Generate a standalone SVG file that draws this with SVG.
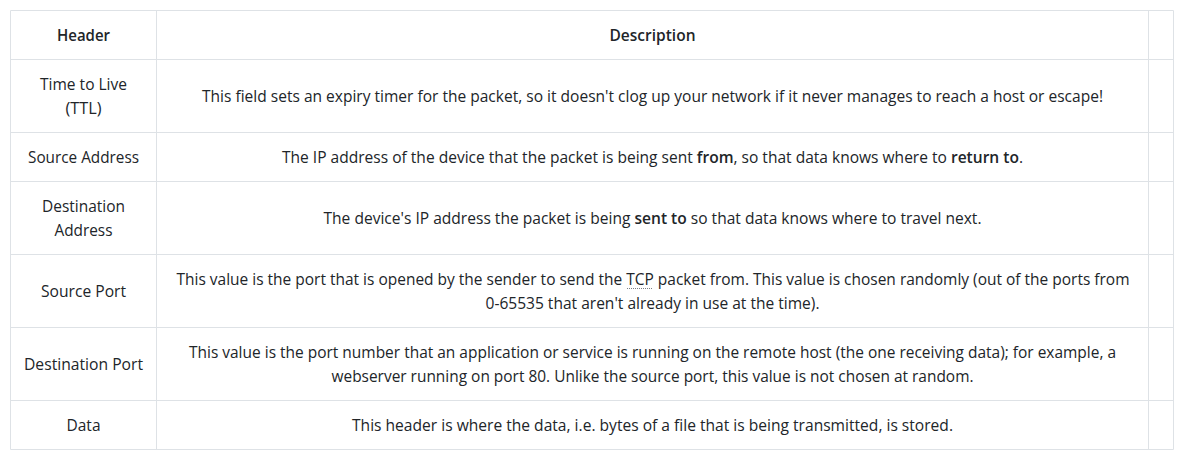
<svg xmlns="http://www.w3.org/2000/svg" width="1188" height="463" viewBox="0 0 1188 463">
<style>
.grid line{stroke:#dee2e6;stroke-width:1}
text{font-family:"Open Sans","Noto Sans","DejaVu Sans",sans-serif;font-size:15.5px;fill:#212529;text-anchor:middle}
.h{font-weight:600}
.b{font-weight:600}
</style>
<rect x="0" y="0" width="1188" height="463" fill="#ffffff"/>
<g id="grid" class="grid">
<line x1="10.5" y1="10.5" x2="1173.5" y2="10.5"/>
<line x1="10.5" y1="59.5" x2="1173.5" y2="59.5"/>
<line x1="10.5" y1="132.5" x2="1173.5" y2="132.5"/>
<line x1="10.5" y1="181.5" x2="1173.5" y2="181.5"/>
<line x1="10.5" y1="254.5" x2="1173.5" y2="254.5"/>
<line x1="10.5" y1="327.5" x2="1173.5" y2="327.5"/>
<line x1="10.5" y1="400.5" x2="1173.5" y2="400.5"/>
<line x1="10.5" y1="449.5" x2="1173.5" y2="449.5"/>
<line x1="10.5" y1="10.5" x2="10.5" y2="449.5"/>
<line x1="156.5" y1="10.5" x2="156.5" y2="449.5"/>
<line x1="1148.5" y1="10.5" x2="1148.5" y2="449.5"/>
<line x1="1173.5" y1="10.5" x2="1173.5" y2="449.5"/>
</g>
<g id="header-row">
<text class="h" x="83.5" y="41" textLength="53" lengthAdjust="spacingAndGlyphs">Header</text>
<text class="h" x="652.5" y="41" textLength="86" lengthAdjust="spacingAndGlyphs">Description</text>
</g>
<g id="row-ttl">
<text x="83.5" y="90" textLength="87" lengthAdjust="spacingAndGlyphs">Time to Live</text>
<text x="83.5" y="114" textLength="36" lengthAdjust="spacingAndGlyphs">(TTL)</text>
<text x="652.5" y="102" textLength="901" lengthAdjust="spacingAndGlyphs">This field sets an expiry timer for the packet, so it doesn't clog up your network if it never manages to reach a host or escape!</text>
</g>
<g id="row-source-address">
<text x="83.5" y="163" textLength="111" lengthAdjust="spacingAndGlyphs">Source Address</text>
<text x="652.5" y="163" textLength="741" lengthAdjust="spacingAndGlyphs">The IP address of the device that the packet is being sent <tspan class="b">from</tspan>, so that data knows where to <tspan class="b">return to</tspan>.</text>
</g>
<g id="row-destination-address">
<text x="83.5" y="212" textLength="83" lengthAdjust="spacingAndGlyphs">Destination</text>
<text x="83.5" y="236" textLength="58" lengthAdjust="spacingAndGlyphs">Address</text>
<text x="652.5" y="224" textLength="658" lengthAdjust="spacingAndGlyphs">The device's IP address the packet is being <tspan class="b">sent to</tspan> so that data knows where to travel next.</text>
</g>
<g id="row-source-port">
<text x="83.5" y="297" textLength="85" lengthAdjust="spacingAndGlyphs">Source Port</text>
<text x="653" y="285" textLength="953" lengthAdjust="spacingAndGlyphs">This value is the port that is opened by the sender to send the TCP packet from. This value is chosen randomly (out of the ports from</text>
<text x="652.5" y="309" textLength="334" lengthAdjust="spacingAndGlyphs">0-65535 that aren't already in use at the time).</text>
<line x1="627" y1="288.5" x2="653" y2="288.5" stroke="#7a7f85" stroke-width="1" stroke-dasharray="1,1"/>
</g>
<g id="row-destination-port">
<text x="83.5" y="370" textLength="119" lengthAdjust="spacingAndGlyphs">Destination Port</text>
<text x="652.5" y="358" textLength="927" lengthAdjust="spacingAndGlyphs">This value is the port number that an application or service is running on the remote host (the one receiving data); for example, a</text>
<text x="652.5" y="382" textLength="642" lengthAdjust="spacingAndGlyphs">webserver running on port 80. Unlike the source port, this value is not chosen at random.</text>
</g>
<g id="row-data">
<text x="83.5" y="431" textLength="34" lengthAdjust="spacingAndGlyphs">Data</text>
<text x="652.5" y="431" textLength="601" lengthAdjust="spacingAndGlyphs">This header is where the data, i.e. bytes of a file that is being transmitted, is stored.</text>
</g>
</svg>
